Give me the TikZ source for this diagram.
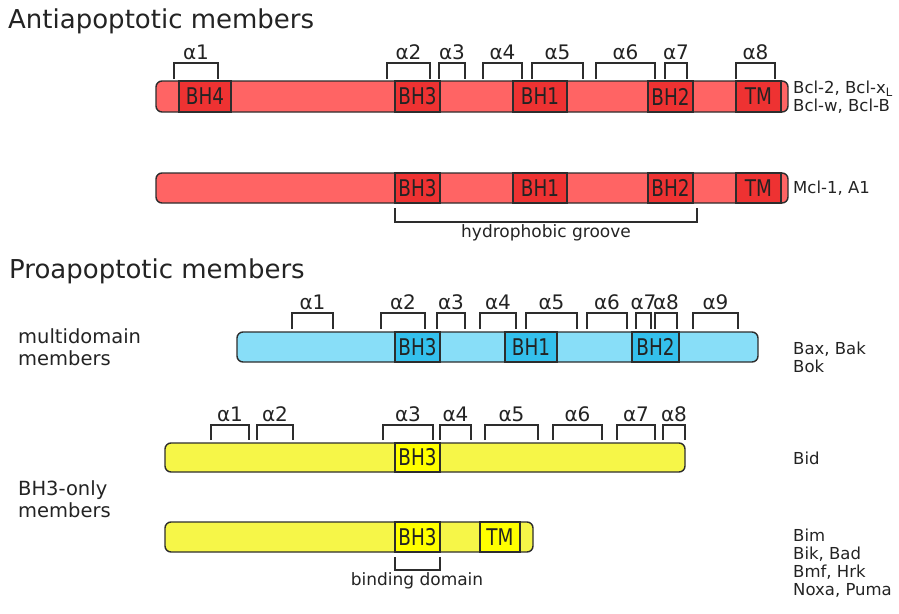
\documentclass[tikz,border=0pt]{standalone}
\usepackage{fontspec}
\setmainfont{DejaVu Sans}
\newfontfamily\domfont[FakeStretch=0.8]{DejaVu Sans}
\usetikzlibrary{fit}
\definecolor{txt}{RGB}{35,35,35}
\definecolor{edge}{RGB}{45,45,45}
\definecolor{redbar}{RGB}{255,100,100}
\definecolor{reddom}{RGB}{238,50,50}
\definecolor{bluebar}{RGB}{136,222,248}
\definecolor{bluedom}{RGB}{52,192,236}
\definecolor{yelbar}{RGB}{246,246,72}
\definecolor{yeldom}{RGB}{255,255,0}
% bracket over a helix, with its label
\newcommand\helix[6]{% name, x1, x2, ytop, ybot, label
  \draw[brk] (#2,#5) -- (#2,#4) -- (#3,#4) -- (#3,#5);
  \node[hlbl] (#1) at ({(#2+#3)/2},#4-4) {#6};}
\begin{document}
\begin{tikzpicture}[x=1pt,y=-1pt,
  bar/.style={draw=edge, line width=1.4pt, rounded corners=6pt, inner sep=0pt},
  dlbl/.style={inner sep=0pt, text=txt, font=\domfont\fontsize{23}{23}\selectfont},
  dom/.style={draw=edge, line width=1.4pt, inner sep=0pt, label={[dlbl]center:#1}},
  brk/.style={draw=edge, line width=1.4pt},
  hlbl/.style={anchor=base, inner sep=0pt, text=txt, font=\fontsize{20}{20}\selectfont},
  side/.style={anchor=west, inner sep=0pt, align=left, text=txt,
    font=\fontsize{16.5}{17.8}\selectfont},
  head/.style={anchor=base west, inner sep=0pt, text=txt, font=\fontsize{26}{26}\selectfont},
  group/.style={anchor=west, inner sep=0pt, align=left, text=txt,
    font=\fontsize{19.5}{22}\selectfont},
  note/.style={inner sep=0pt, text=txt, font=\fontsize{17}{17}\selectfont}]
\useasboundingbox (0,0) rectangle (899,613);

% ---------------- headings ----------------
\node[head] (anti) at (8,28) {Antiapoptotic members};
\node[head] (pro) at (9,278) {Proapoptotic members};

% ---------------- Bcl-2 type ----------------
\node[bar, fill=redbar, fit={(156,81) (788,112)}] (bclbar) {};
\node[dom=BH4, fill=reddom, fit={(179,81) (231,112)}] (bclBHiv) {};
\node[dom=BH3, fill=reddom, fit={(395,81) (440,112)}] (bclBHiii) {};
\node[dom=BH1, fill=reddom, fit={(513,81) (567,112)}] (bclBHi) {};
\node[dom=BH2, fill=reddom, fit={(648,81) (693,112)}] (bclBHii) {};
\node[dom=TM, fill=reddom, fit={(736,81) (781,112)}] (bclTM) {};
\helix{ba1}{174}{218}{63}{79}{α1}
\helix{ba2}{387}{430}{63}{79}{α2}
\helix{ba3}{439}{465}{63}{79}{α3}
\helix{ba4}{483}{522}{63}{79}{α4}
\helix{ba5}{532}{583}{63}{79}{α5}
\helix{ba6}{596}{655}{63}{79}{α6}
\helix{ba7}{665}{687}{63}{79}{α7}
\helix{ba8}{736}{775}{63}{79}{α8}
\node[side] (bclname) at (793,97) {Bcl-2, Bcl-x\textsubscript{L}\\Bcl-w, Bcl-B};

% ---------------- Mcl-1 type ----------------
\node[bar, fill=redbar, fit={(156,173) (788,203)}] (mclbar) {};
\node[dom=BH3, fill=reddom, fit={(395,173) (440,203)}] (mclBHiii) {};
\node[dom=BH1, fill=reddom, fit={(513,173) (567,203)}] (mclBHi) {};
\node[dom=BH2, fill=reddom, fit={(648,173) (693,203)}] (mclBHii) {};
\node[dom=TM, fill=reddom, fit={(736,173) (781,203)}] (mclTM) {};
\node[side] (mclname) at (793,188) {Mcl-1, A1};
\coordinate (grooveL) at (395,208);
\coordinate (grooveR) at (697,208);
\draw[brk] (grooveL) -- (395,222) -- (697,222) -- (grooveR);
\node[note] (groove) at (546,233) {hydrophobic groove};

% ---------------- multidomain ----------------
\node[group] (multi) at (18,347) {multidomain\\members};
\node[bar, fill=bluebar, fit={(237,332) (758,362)}] (baxbar) {};
\node[dom=BH3, fill=bluedom, fit={(395,332) (440,362)}] (baxBHiii) {};
\node[dom=BH1, fill=bluedom, fit={(505,332) (557,362)}] (baxBHi) {};
\node[dom=BH2, fill=bluedom, fit={(632,332) (679,362)}] (baxBHii) {};
\helix{xa1}{292}{333}{313}{329}{α1}
\helix{xa2}{381}{425}{313}{329}{α2}
\helix{xa3}{437}{465}{313}{329}{α3}
\helix{xa4}{480}{516}{313}{329}{α4}
\helix{xa5}{526}{577}{313}{329}{α5}
\helix{xa6}{587}{627}{313}{329}{α6}
\helix{xa7}{636}{651}{313}{329}{α7}
\helix{xa8}{655}{677}{313}{329}{α8}
\helix{xa9}{693}{738}{313}{329}{α9}
\node[side] (baxname) at (793,357) {Bax, Bak\\Bok};

% ---------------- BH3-only ----------------
\node[group] (bhonly) at (18,499) {BH3-only\\members};
\node[bar, fill=yelbar, fit={(165,443) (685,472)}] (bidbar) {};
\node[dom=BH3, fill=yeldom, fit={(395,443) (440,472)}] (bidBHiii) {};
\helix{da1}{211}{249}{425}{440}{α1}
\helix{da2}{257}{293}{425}{440}{α2}
\helix{da3}{383}{433}{425}{440}{α3}
\helix{da4}{440}{471}{425}{440}{α4}
\helix{da5}{485}{538}{425}{440}{α5}
\helix{da6}{553}{602}{425}{440}{α6}
\helix{da7}{617}{655}{425}{440}{α7}
\helix{da8}{663}{685}{425}{440}{α8}
\node[side] (bidname) at (793,458) {Bid};

\node[bar, fill=yelbar, fit={(165,522) (533,552)}] (bimbar) {};
\node[dom=BH3, fill=yeldom, fit={(395,522) (440,552)}] (bimBHiii) {};
\node[dom=TM, fill=yeldom, fit={(480,522) (520,552)}] (bimTM) {};
\coordinate (bindL) at (395,557);
\coordinate (bindR) at (440,557);
\draw[brk] (bindL) -- (395,570) -- (440,570) -- (bindR);
\node[note] (binding) at (417,581) {binding domain};
\node[side] (bimname) at (793,563) {Bim\\Bik, Bad\\Bmf, Hrk\\Noxa, Puma};
\end{tikzpicture}
\end{document}
